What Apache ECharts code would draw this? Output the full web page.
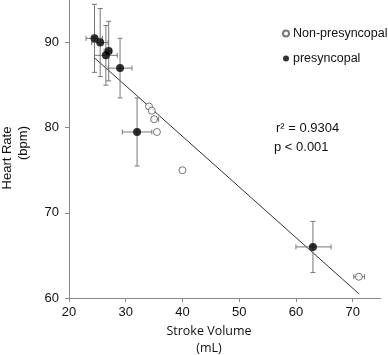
<html>
<head>
<meta charset="utf-8">
<title>Heart Rate vs Stroke Volume</title>
<script src="https://cdn.jsdelivr.net/npm/echarts@6/dist/echarts.min.js"></script>
<style>
  html, body { margin: 0; padding: 0; background: #fff; }
</style>
</head>
<body style="width:100%;height:100%">
<div id="main" style="width:388px;height:355px;"></div>
<script>
// presyncopal (filled)
var presX    = [24.5, 25.5, 27.0, 26.5, 29.0, 32.0, 63.0];
var presY    = [90.5, 90.0, 89.0, 88.5, 87.0, 79.5, 66.0];
var presXLo  = [23.0, 24.0, 26.2, 24.5, 26.9, 29.4, 60.0];
var presXHi  = [25.9, 26.9, 27.5, 28.5, 31.1, 34.6, 66.2];
var presYLo  = [86.5, 86.0, 85.5, 85.0, 83.5, 75.5, 63.0];
var presYHi  = [94.5, 94.0, 92.5, 92.0, 90.5, 83.5, 69.0];

// non-presyncopal (open)
var nonX     = [34.1, 34.6, 35.0, 35.5, 40.0, 71.1];
var nonY     = [82.5, 82.0, 81.0, 79.5, 75.0, 62.5];
var nonXLo   = [34.1, 34.6, 34.6, 35.5, 40.0, 70.2];
var nonXHi   = [34.1, 34.6, 35.8, 35.5, 40.0, 72.1];

// regression line end points
var fitX = [24.5, 71.1];
var fitY = [88.2, 60.5];

var xTicks = [20, 30, 40, 50, 60, 70];
var yTicks = [60, 70, 80, 90];

var myChart = echarts.init(document.getElementById('main'));

// error bars rows: [x, y, xlo, xhi, ylo, yhi]
var presErr = [];
for (var i = 0; i < presX.length; i++) {
  presErr.push([presX[i], presY[i], presXLo[i], presXHi[i], presYLo[i], presYHi[i]]);
}
var nonErr = [];
for (var i = 0; i < nonX.length; i++) {
  nonErr.push([nonX[i], nonY[i], nonXLo[i], nonXHi[i], nonY[i], nonY[i]]);
}

function errBars(params, api) {
  var x = api.value(0), y = api.value(1);
  var c = api.coord([x, y]);
  var xl = api.coord([api.value(2), y]);
  var xh = api.coord([api.value(3), y]);
  var yl = api.coord([x, api.value(4)]);
  var yh = api.coord([x, api.value(5)]);
  var cap = 2.5;
  var st = { stroke: '#777', lineWidth: 1 };
  var kids = [];
  if (xh[0] - xl[0] > 1) {
    kids.push({ type: 'line', shape: { x1: xl[0], y1: c[1], x2: xh[0], y2: c[1] }, style: st });
    kids.push({ type: 'line', shape: { x1: xl[0], y1: c[1] - cap, x2: xl[0], y2: c[1] + cap }, style: st });
    kids.push({ type: 'line', shape: { x1: xh[0], y1: c[1] - cap, x2: xh[0], y2: c[1] + cap }, style: st });
  }
  if (yl[1] - yh[1] > 1) {
    kids.push({ type: 'line', shape: { x1: c[0], y1: yh[1], x2: c[0], y2: yl[1] }, style: st });
    kids.push({ type: 'line', shape: { x1: c[0] - cap, y1: yh[1], x2: c[0] + cap, y2: yh[1] }, style: st });
    kids.push({ type: 'line', shape: { x1: c[0] - cap, y1: yl[1], x2: c[0] + cap, y2: yl[1] }, style: st });
  }
  return { type: 'group', children: kids };
}

var fitData = [];
for (var i = 0; i < fitX.length; i++) fitData.push([fitX[i], fitY[i]]);
var presData = [];
for (var i = 0; i < presX.length; i++) presData.push([presX[i], presY[i]]);
var nonData = [];
for (var i = 0; i < nonX.length; i++) nonData.push([nonX[i], nonY[i]]);

var font = '"Liberation Sans", Arial, sans-serif';
var font2 = '"Open Sans", sans-serif';

var option = {
  animation: false,
  textStyle: { fontFamily: font },
  grid: { left: 69, right: 7, top: 0, bottom: 57 },
  legend: {
    orient: 'vertical',
    left: 282,
    top: 27,
    padding: 0,
    itemGap: 12,
    itemWidth: 6,
    itemHeight: 6,
    textStyle: { fontSize: 12.5, color: '#111', fontFamily: font, padding: [0, 0, 0, -1] },
    data: [
      { name: 'Non-presyncopal', icon: 'circle' },
      { name: 'presyncopal', icon: 'circle' }
    ]
  },
  xAxis: {
    type: 'value',
    min: 20, max: 75, interval: 10,
    splitLine: { show: false },
    axisLine: { lineStyle: { color: '#888', width: 1 } },
    axisTick: { show: true, length: 4, inside: false, customValues: xTicks, lineStyle: { color: '#888' } },
    axisLabel: { customValues: xTicks, fontSize: 13, color: '#111', margin: 8, fontFamily: font }
  },
  yAxis: {
    type: 'value',
    min: 60, max: 95, interval: 10,
    splitLine: { show: false },
    axisLine: { show: true, lineStyle: { color: '#888', width: 1 } },
    axisTick: { show: true, length: 4, inside: false, customValues: yTicks, lineStyle: { color: '#888' } },
    axisLabel: { customValues: yTicks, fontSize: 13, color: '#111', margin: 10, fontFamily: font }
  },
  graphic: [
    { type: 'text', x: 7, y: 158, rotation: Math.PI / 2,
      style: { text: 'Heart Rate', font: '13px ' + font, fill: '#111', align: 'center', verticalAlign: 'middle' } },
    { type: 'text', x: 23, y: 143, rotation: Math.PI / 2,
      style: { text: '(bpm)', font: '13px ' + font, fill: '#111', align: 'center', verticalAlign: 'middle' } },
    { type: 'text', x: 209, y: 331,
      style: { text: 'Stroke Volume', font: '12.5px ' + font2, fill: '#111', align: 'center', verticalAlign: 'middle' } },
    { type: 'text', x: 209, y: 348,
      style: { text: '(mL)', font: '12.5px ' + font2, fill: '#111', align: 'center', verticalAlign: 'middle' } },
    { type: 'text', x: 276, y: 128,
      style: { text: 'r\u00b2 = 0.9304', font: '13px ' + font, fill: '#111', align: 'left', verticalAlign: 'middle' } },
    { type: 'text', x: 274, y: 147,
      style: { text: 'p < 0.001', font: '13px ' + font, fill: '#111', align: 'left', verticalAlign: 'middle' } }
  ],
  series: [
    {
      name: 'fit', type: 'line', data: fitData, symbol: 'none',
      lineStyle: { color: '#333', width: 1 }, silent: true, z: 1
    },
    {
      name: 'presErr', type: 'custom', renderItem: errBars, data: presErr, z: 2,
      encode: { x: 0, y: 1 }
    },
    {
      name: 'nonErr', type: 'custom', renderItem: errBars, data: nonErr, z: 2,
      encode: { x: 0, y: 1 }
    },
    {
      name: 'Non-presyncopal', type: 'scatter', data: nonData, symbolSize: 7, z: 3,
      itemStyle: { color: '#fff', borderColor: '#555', borderWidth: 1 }
    },
    {
      name: 'presyncopal', type: 'scatter', data: presData, symbolSize: 8, z: 3,
      itemStyle: { color: '#000' }
    }
  ]
};

myChart.setOption(option);
</script>
</body>
</html>
